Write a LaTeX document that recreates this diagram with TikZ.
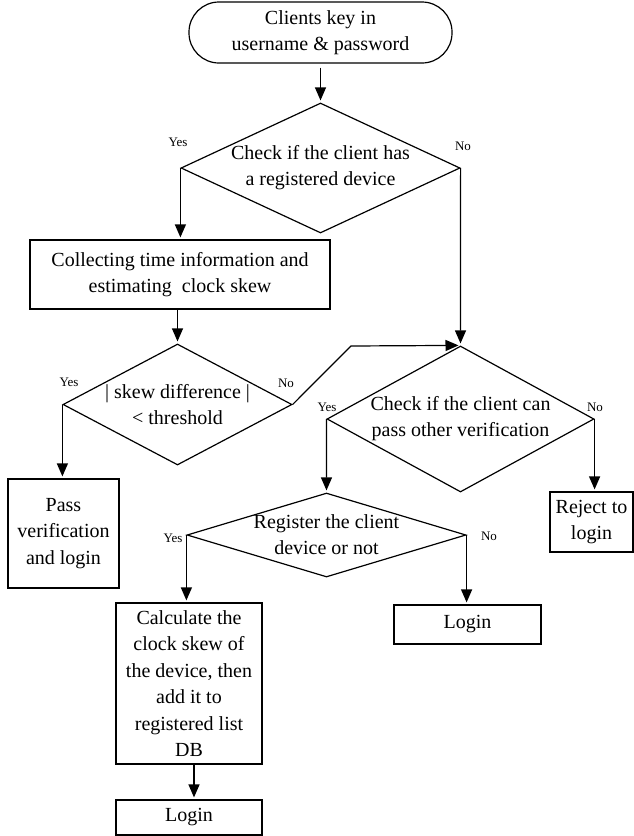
\documentclass[tikz,border=0pt]{standalone}
\usepackage{fontspec}
\setmainfont{Liberation Serif}
\usetikzlibrary{shapes.geometric,arrows.meta}

\tikzset{%
  startstop/.style={draw, line width=1.2pt, rounded corners=30pt, minimum width=263pt, minimum height=61pt, align=center, font=\fontsize{20.000000}{26.000000}\selectfont},%
  decision/.style={draw, diamond, aspect=2, inner sep=-12pt, line width=1.2pt, align=center, font=\fontsize{20.000000}{26.000000}\selectfont},%
  process/.style={draw, rectangle, inner sep=2pt, line width=1.2pt, align=center, font=\fontsize{20.000000}{26.500000}\selectfont},%
  answer/.style={inner sep=0pt, font=\fontsize{13.000000}{15.000000}\selectfont},%
  flow/.style={line width=1.2pt, -{Triangle[length=13pt,width=11pt]}, shorten >=2pt},%
}

\begin{document}
\begin{tikzpicture}[x=1pt, y=-1pt]%
\useasboundingbox (0, 0) rectangle (634, 836);%
\node[startstop] (start) at (320.5, 32.5) {Clients key in\\username \& password};%
\node[decision, minimum width=279pt, minimum height=130pt] (d1) at (320.5, 168) {Check if the client has\\a registered device};%
\node[process, minimum width=300pt, minimum height=69pt] (collect) at (180, 274.5) {Collecting time information and\\estimating~ clock skew};%
\node[decision, minimum width=229pt, minimum height=121pt] (d2) at (177.5, 404.5) {| skew difference |\\< threshold};%
\node[process, minimum width=111pt, minimum height=109pt] (pass) at (63.5, 533.5) {Pass\\verification\\and login};%
\node[decision, minimum width=267pt, minimum height=146pt] (d3) at (460.5, 419) {Check if the client can\\pass other verification};%
\node[process, minimum width=83pt, minimum height=60pt] (reject) at (591.5, 522) {Reject to\\login};%
\node[decision, minimum width=279pt, minimum height=84pt] (d4) at (326.5, 535) {Register the client\\device or not};%
\node[process, minimum width=146pt, minimum height=161pt] (calc) at (189, 683.5) {Calculate the\\clock skew of\\the device, then\\add it to\\registered list\\DB};%
\node[process, minimum width=146pt, minimum height=35pt] (login1) at (189, 817.5) {Login};%
\node[process, minimum width=147pt, minimum height=39pt] (login2) at (467.5, 624.5) {Login};%
\node[answer] (d1yes) at (178, 142) {Yes};%
\node[answer] (d1no) at (463, 146) {No};%
\node[answer] (d2yes) at (69, 382) {Yes};%
\node[answer] (d2no) at (286, 383) {No};%
\node[answer] (d3yes) at (327, 407) {Yes};%
\node[answer] (d3no) at (595, 407) {No};%
\node[answer] (d4yes) at (173, 538) {Yes};%
\node[answer] (d4no) at (489, 536) {No};%
\coordinate (bend) at (351, 346);%
\draw[flow, shorten <=4pt] (start.south) -- (d1.north);%
\draw[flow] (d1.west) -- (d1.west |- collect.north);%
\draw[flow] (d1.east) -- (d3.north);%
\draw[flow] (d2.north |- collect.south) -- (d2.north);%
\draw[flow] (d2.west) -- (d2.west |- pass.north);%
\draw[flow] (d2.east) -- (bend) -- (d3.north);%
\draw[flow] (d3.west) -- (d4.north);%
\draw[flow] (d3.east) -- (d3.east |- reject.north);%
\draw[flow] (d4.west) -- (d4.west |- calc.north);%
\draw[flow] (d4.east) -- (d4.east |- login2.north);%
\draw[flow] ([xshift=5pt]calc.south) -- ([xshift=5pt]login1.north);%
\end{tikzpicture}
\end{document}
